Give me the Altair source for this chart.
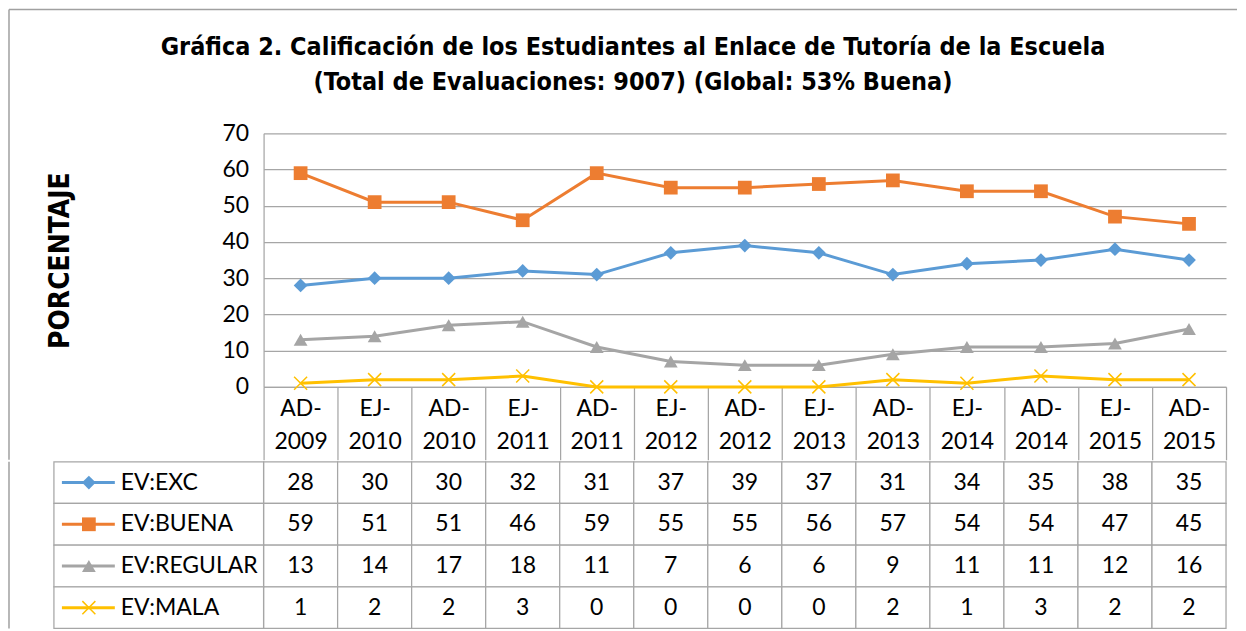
import altair as alt
import pandas as pd

categories = ["AD-2009", "EJ-2010", "AD-2010", "EJ-2011", "AD-2011", "EJ-2012", "AD-2012",
              "EJ-2013", "AD-2013", "EJ-2014", "AD-2014", "EJ-2015", "AD-2015"]
series_names = ["EV:EXC", "EV:BUENA", "EV:REGULAR", "EV:MALA"]
exc = [28, 30, 30, 32, 31, 37, 39, 37, 31, 34, 35, 38, 35]
buena = [59, 51, 51, 46, 59, 55, 55, 56, 57, 54, 54, 47, 45]
regular = [13, 14, 17, 18, 11, 7, 6, 6, 9, 11, 11, 12, 16]
mala = [1, 2, 2, 3, 0, 0, 0, 0, 2, 1, 3, 2, 2]
colors = ["#5B9BD5", "#ED7D31", "#A5A5A5", "#FFC000"]
title_lines = ["Gráfica 2.  Calificación de los Estudiantes al Enlace de Tutoría de la Escuela",
               "(Total de Evaluaciones: 9007) (Global: 53% Buena)"]

rows = []
for name, vals in zip(series_names, [exc, buena, regular, mala]):
    for c, v in zip(categories, vals):
        rows.append({"cat": c, "series": name, "value": v})
df = pd.DataFrame(rows)
sdf = pd.DataFrame({"series": series_names})
one = pd.DataFrame({"k": [0]})

GRID = "#a6a6a6"
FRAME = "#a0a0a0"
TFONT = "Lato"
NARROW = "DejaVu Sans Condensed, Roboto Condensed, Open Sans Condensed, Liberation Sans, sans-serif"
W = 964

xscale = alt.Scale(domain=categories, paddingInner=0, paddingOuter=0)
cscale = alt.Scale(domain=series_names, range=colors)
shape_scale = alt.Scale(domain=series_names[:3], range=["diamond", "square", "triangle-up"])
XPATH = "M-1,-1L1,1M-1,1L1,-1"

x_top = alt.X("cat:N", scale=xscale, sort=categories,
              axis=alt.Axis(title=None, labelAngle=0, tickBand="extent", tickSize=73,
                            tickColor=GRID, tickWidth=1.25, domainColor=GRID, domainWidth=1.25,
                            labelPadding=-44, labelBaseline="alphabetic", labelFont=TFONT,
                            labelFontSize=23, labelColor="black", labelLineHeight=33,
                            labelExpr="[slice(datum.label,0,indexof(datum.label,'-')+1), slice(datum.label,indexof(datum.label,'-')+1)]"))
y_top = alt.Y("value:Q", scale=alt.Scale(domain=[0, 70]),
              axis=alt.Axis(values=list(range(0, 71, 10)), ticks=False, labelPadding=15,
                            labelFont=TFONT, labelFontSize=23, labelColor="black",
                            grid=True, gridColor=GRID, gridWidth=1.25, domainColor=GRID,
                            domainWidth=1.25, title="PORCENTAJE", titleFont=NARROW,
                            titleFontSize=28, titleFontWeight="bold", titleColor="black",
                            titleX=-203, titleY=127, titleAngle=270, titleAlign="center",
                            titleBaseline="middle"))
color = alt.Color("series:N", scale=cscale, legend=None)

frame_left = alt.Chart(one).mark_rule(color=FRAME, strokeWidth=1.5).encode(
    x=alt.value(-255), y=alt.value(-124), y2=alt.value(327))
frame_top = alt.Chart(one).mark_rule(color=FRAME, strokeWidth=1.5).encode(
    x=alt.value(-255), x2=alt.value(975), y=alt.value(-124))
lines = alt.Chart(df).mark_line(strokeWidth=3).encode(x=x_top, y=y_top, color=color,
                                                      detail="series:N")
filled_pts = alt.Chart(df).transform_filter(alt.datum.series != "EV:MALA").mark_point(
    filled=True, opacity=1, size=190).encode(
    x=x_top, y=y_top, color=color, shape=alt.Shape("series:N", scale=shape_scale, legend=None))
x_pts = alt.Chart(df).transform_filter(alt.datum.series == "EV:MALA").mark_point(
    shape=XPATH, filled=False, opacity=1, size=170, strokeWidth=1.5).encode(
    x=x_top, y=y_top, color=color)
top = alt.layer(frame_left, frame_top, lines, filled_pts, x_pts).properties(width=W, height=254)

x_tab = alt.X("cat:N", scale=xscale, sort=categories, axis=None)
y_tab = alt.Y("series:N", scale=alt.Scale(domain=series_names, paddingInner=0, paddingOuter=0),
              axis=None)
frame_left2 = alt.Chart(one).mark_rule(color=FRAME, strokeWidth=1.5).encode(
    x=alt.value(-255), y=alt.value(0), y2=alt.value(167))
cells = alt.Chart(df).mark_rect(fill="white", stroke=GRID, strokeWidth=1.25).encode(x=x_tab, y=y_tab)
cell_text = alt.Chart(df).mark_text(font=TFONT, fontSize=23, color="black").encode(
    x=x_tab, y=y_tab, text="value:Q")
leg_cells = alt.Chart(sdf).mark_rect(fill="white", stroke=GRID, strokeWidth=1.25).encode(
    x=alt.value(-210), x2=alt.value(0), y=y_tab)
leg_lines = alt.Chart(sdf).mark_rule(strokeWidth=3).encode(
    x=alt.value(-202), x2=alt.value(-149), y=y_tab, color=color)
leg_pts = alt.Chart(sdf).transform_filter(alt.datum.series != "EV:MALA").mark_point(
    filled=True, opacity=1, size=190).encode(
    x=alt.value(-175), y=y_tab, color=color,
    shape=alt.Shape("series:N", scale=shape_scale, legend=None))
leg_x = alt.Chart(sdf).transform_filter(alt.datum.series == "EV:MALA").mark_point(
    shape=XPATH, filled=False, opacity=1, size=170, strokeWidth=1.5).encode(
    x=alt.value(-175), y=y_tab, color=color)
leg_text = alt.Chart(sdf).mark_text(font=TFONT, fontSize=23, color="black", align="left").encode(
    x=alt.value(-143), y=y_tab, text="series:N")
table = alt.layer(frame_left2, cells, cell_text, leg_cells, leg_lines, leg_pts, leg_x,
                  leg_text).properties(width=W, height=167)

chart = alt.vconcat(top, table, spacing=0).properties(
    title=alt.TitleParams(text=title_lines, font=NARROW, fontSize=25, fontWeight="bold",
                          color="black", anchor="middle", lineHeight=35, offset=-86, dx=10),
    padding={"left": 0, "top": 0, "right": 0, "bottom": 0},
).configure_view(stroke=None).resolve_scale(x="shared")

chart.save("out.html", embed_options={"renderer": "svg", "actions": False})
